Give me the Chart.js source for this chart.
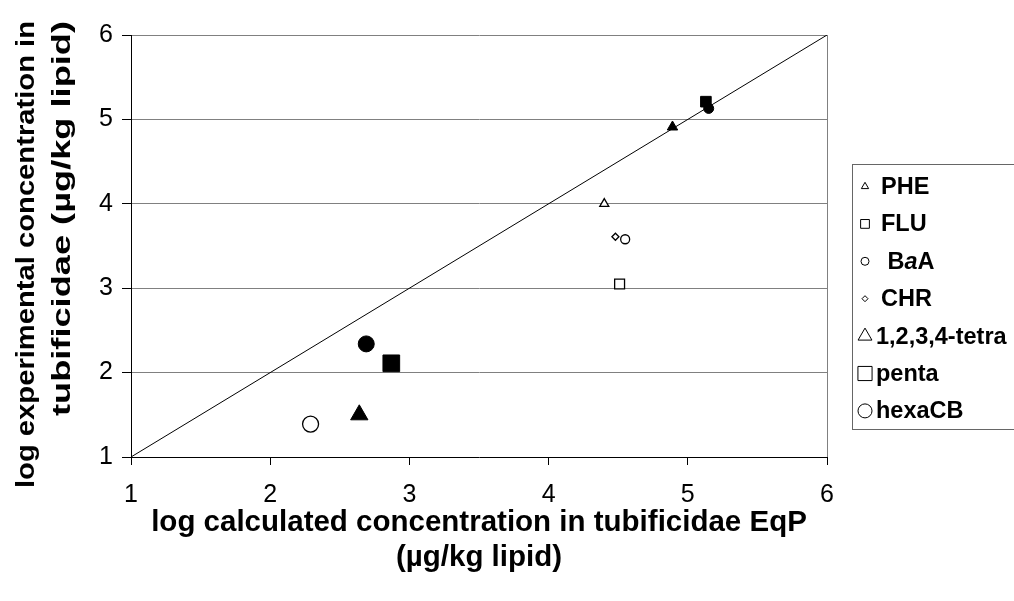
<!DOCTYPE html>
<html>
<head>
<meta charset="utf-8">
<script src="https://cdn.jsdelivr.net/npm/chart.js@4.4.1/dist/chart.umd.min.js"></script>
<style>
  html, body { margin: 0; padding: 0; background: #fff; }
</style>
</head>
<body>
<canvas id="myChart" width="1014" height="601"></canvas>
<script>
const ctx = document.getElementById('myChart');

// compounds, legend order (<i>..</i> = italic part)
const compounds = ['PHE', 'FLU', ' B<i>a</i>A', 'CHR', '1,2,3,4-tetra', 'penta', 'hexaCB'];
// open markers
const openX = [4.40, 4.51, 4.55, 4.48, null, null, 2.29];
const openY = [4.00, 3.05, 3.58, 3.61, null, null, 1.39];
// filled markers
const filledX = [4.89, 5.13, 5.15, null, 2.64, 2.87, 2.69];
const filledY = [4.91, 5.21, 5.13, null, 1.50, 2.11, 2.34];
// 1:1 line
const lineX = [1, 6];
const lineY = [1, 6];
const xTitle = ['log calculated concentration in tubificidae EqP', '(\u00b5g/kg lipid)'];
const yTitle = ['log experimental concentration in', 'tubificidae (\u00b5g/kg lipid)'];

// styles
const shapes = ['triangle', 'rect', 'circle', 'rectRot', 'triangle', 'rect', 'circle'];
const openSize = [5.2, 7, 4.5, 3.5, 10, 11.8, 8];
const filledSize = [6, 7.5, 5, 4, 10, 11.8, 8];
const legendSize = [4.2, 6.2, 4, 3, 8, 10, 7];
const FONT = '"Liberation Sans", Arial, sans-serif';

const datasets = [{
  type: 'line',
  label: '1:1',
  data: lineX.map((x, i) => ({ x: x, y: lineY[i] })),
  borderColor: '#000',
  borderWidth: 1,
  pointRadius: 0,
  order: 10
}];

compounds.forEach((name, i) => {
  if (openX[i] !== null) {
    datasets.push({
      label: name,
      data: [{ x: openX[i], y: openY[i] }],
      pointStyle: shapes[i],
      pointRadius: openSize[i],
      backgroundColor: '#fff',
      borderColor: '#000',
      borderWidth: 1.3
    });
  }
  if (filledX[i] !== null) {
    datasets.push({
      label: name,
      data: [{ x: filledX[i], y: filledY[i] }],
      pointStyle: shapes[i],
      pointRadius: filledSize[i],
      backgroundColor: '#000',
      borderColor: '#000',
      borderWidth: 1
    });
  }
});

function marker(c, style, r, x, y) {
  c.beginPath();
  if (style === 'circle') {
    c.arc(x, y, r, 0, Math.PI * 2);
  } else if (style === 'rect') {
    const s = r * Math.SQRT1_2;
    c.rect(x - s, y - s, 2 * s, 2 * s);
  } else if (style === 'rectRot') {
    c.moveTo(x, y - r); c.lineTo(x + r, y); c.lineTo(x, y + r); c.lineTo(x - r, y);
    c.closePath();
  } else if (style === 'triangle') {
    c.moveTo(x, y - r);
    c.lineTo(x + r * 0.866, y + r * 0.5);
    c.lineTo(x - r * 0.866, y + r * 0.5);
    c.closePath();
  }
  c.fill();
  c.stroke();
}

// draw text stretched along its own direction to a given length
function stretchedText(c, text, len) {
  const w = c.measureText(text).width;
  c.save();
  c.scale(len / w, 1);
  c.fillText(text, 0, 0);
  c.restore();
}

const textPlugin = {
  id: 'texts',
  afterDraw(chart) {
    const c = chart.ctx;
    const area = chart.chartArea;
    c.save();
    c.fillStyle = '#000';

    // x title
    c.font = 'bold 29.5px ' + FONT;
    c.textAlign = 'center';
    c.textBaseline = 'middle';
    const cx = (area.left + area.right) / 2;
    xTitle.forEach((t, i) => c.fillText(t, cx, area.bottom + 66 + i * 35));

    // y title, lines end at the top
    c.font = 'bold 25px ' + FONT;
    c.textAlign = 'right';
    const yLens = [467, 395];
    const yX = [27, 63];
    yTitle.forEach((t, i) => {
      c.save();
      c.translate(yX[i], 21);
      c.rotate(-Math.PI / 2);
      stretchedText(c, t, yLens[i]);
      c.restore();
    });

    // legend
    const lx = 852.5, ly = 164.5, lb = 429.5;
    c.strokeStyle = '#666';
    c.lineWidth = 1;
    c.strokeRect(lx, ly, 1030 - lx, lb - ly);
    c.textAlign = 'left';
    compounds.forEach((name, i) => {
      const y = ly + 22 + i * 37.4;
      c.fillStyle = '#fff';
      c.strokeStyle = '#000';
      c.lineWidth = 1;
      marker(c, shapes[i], legendSize[i], 865, y);
      c.fillStyle = '#000';
      let x = i < 4 ? 881 : 876;
      name.split(/(<i>.*?<\/i>)/).forEach(part => {
        if (!part) return;
        const it = part.startsWith('<i>');
        const txt = part.replace(/<\/?i>/g, '');
        c.font = (it ? 'italic ' : '') + 'bold 23.5px ' + FONT;
        c.fillText(txt, x, y + 1);
        x += c.measureText(txt).width;
      });
    });
    c.restore();
  }
};

new Chart(ctx, {
  type: 'scatter',
  data: { datasets: datasets },
  options: {
    responsive: false,
    animation: false,
    layout: { padding: { top: 35, right: 187, left: 0, bottom: 0 } },
    plugins: {
      legend: { display: false },
      tooltip: { enabled: false }
    },
    scales: {
      x: {
        type: 'linear',
        min: 1,
        max: 6,
        afterFit: s => { s.height = 144; },
        ticks: { stepSize: 1, color: '#000', font: { family: FONT, size: 25 }, padding: 15, maxRotation: 0 },
        grid: {
          color: c => (c.tick && c.tick.value === 6 ? '#808080' : 'rgba(0,0,0,0)'),
          tickColor: '#000',
          tickLength: 8
        },
        border: { color: '#000', width: 1 }
      },
      y: {
        min: 1,
        max: 6,
        afterFit: s => { s.width = 131; },
        ticks: { stepSize: 1, color: '#000', font: { family: FONT, size: 25 }, padding: 9 },
        grid: {
          color: c => (c.tick && c.tick.value === 1 ? 'rgba(0,0,0,0)' : '#808080'),
          tickColor: '#000',
          tickLength: 9
        },
        border: { color: '#000', width: 1 }
      }
    }
  },
  plugins: [textPlugin]
});
</script>
</body>
</html>
